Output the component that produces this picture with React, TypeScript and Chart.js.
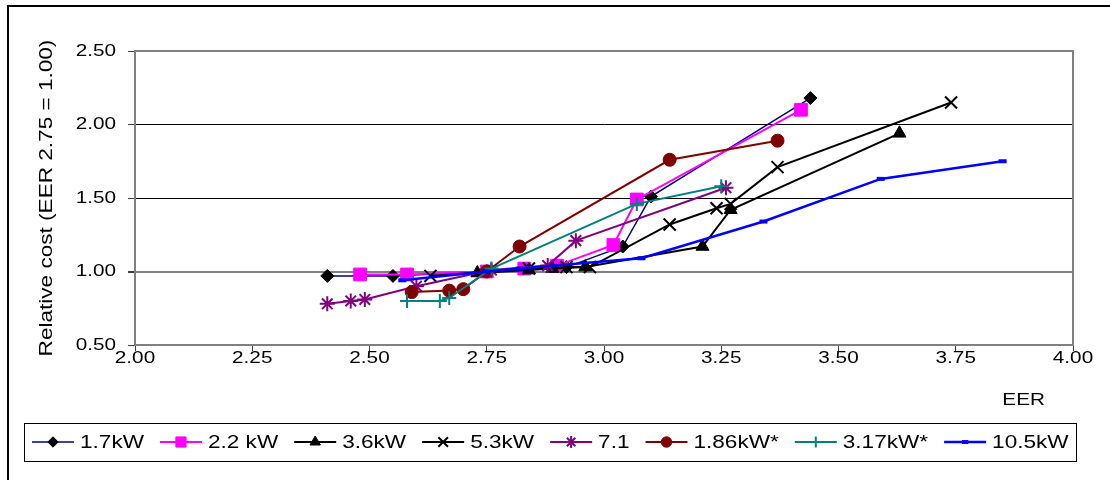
import React, { useEffect, useRef } from 'react';
import { Chart, registerables } from 'chart.js';
import { drawPoint } from 'chart.js/helpers';

Chart.register(...registerables);

// ---- data ----
const seriesNames = ['1.7kW', '2.2 kW', '3.6kW', '5.3kW', '7.1', '1.86kW*', '3.17kW*', '10.5kW'];

const eer17 = [2.41, 2.55, 2.75, 2.92, 3.04, 3.10, 3.44];
const cost17 = [0.97, 0.97, 1.00, 1.03, 1.17, 1.51, 2.18];

const eer22 = [2.48, 2.58, 2.75, 2.83, 2.90, 3.02, 3.07, 3.42];
const cost22 = [0.98, 0.98, 1.00, 1.02, 1.04, 1.18, 1.49, 2.10];

const eer36 = [2.73, 2.84, 2.89, 2.96, 3.21, 3.27, 3.63];
const cost36 = [0.99, 1.01, 1.02, 1.03, 1.17, 1.42, 1.94];

const eer53 = [2.63, 2.84, 2.92, 2.97, 3.14, 3.24, 3.27, 3.37, 3.74];
const cost53 = [0.97, 1.02, 1.03, 1.03, 1.32, 1.43, 1.46, 1.71, 2.15];

const eer71 = [2.41, 2.46, 2.49, 2.60, 2.76, 2.88, 2.94, 3.26];
const cost71 = [0.78, 0.80, 0.81, 0.90, 1.01, 1.04, 1.21, 1.57];

const eer186 = [2.59, 2.67, 2.70, 2.75, 2.82, 3.14, 3.37];
const cost186 = [0.86, 0.87, 0.88, 1.00, 1.17, 1.76, 1.89];

const eer317 = [2.58, 2.65, 2.67, 2.76, 3.07, 3.25];
const cost317 = [0.80, 0.80, 0.82, 1.02, 1.46, 1.58];

const eer105 = [2.57, 2.75, 2.82, 3.08, 3.34, 3.59, 3.85];
const cost105 = [0.94, 1.00, 1.02, 1.09, 1.34, 1.63, 1.75];

const xTickValues = [2.0, 2.25, 2.5, 2.75, 3.0, 3.25, 3.5, 3.75, 4.0];
const yTickValues = [0.5, 1.0, 1.5, 2.0, 2.5];

const xTitle = 'EER';
const yTitle = 'Relative cost (EER 2.75 = 1.00)';

// ---- styles ----
const lineColors = ['#000080', '#FF00FF', '#000000', '#000000', '#800080', '#800000', '#008080', '#0000FF'];
const markerColors = ['#000000', '#FF00FF', '#000000', '#000000', '#800080', '#800000', '#008080', '#0000FF'];
const markerStyles = ['rectRot', 'rect', 'triangle', 'crossRot', 'star', 'circle', 'cross', 'line'];
const markerRadii = [6.5, 9, 7.5, 8.5, 7.5, 6.5, 7, 4];
const markerBorderWidths = [1, 1, 1, 2, 2, 1, 2, 4];
const lineWidths = [1.5, 2, 2, 2, 2, 2, 2, 2.5];

const FONT = '"Liberation Sans", Arial, Helvetica, sans-serif';
const SX = 1.22; // horizontal text stretch to mimic the original rendering

function patchCtx(ctx: CanvasRenderingContext2D) {
  const orig = ctx.fillText.bind(ctx);
  (ctx as any).fillText = (text: string, x: number, y: number, maxWidth?: number) => {
    ctx.save();
    ctx.translate(x, y);
    ctx.scale(SX, 1);
    if (maxWidth !== undefined && maxWidth !== null) orig(text, 0, 0, maxWidth / SX);
    else orig(text, 0, 0);
    ctx.restore();
  };
}

const plotBorderPlugin = {
  id: 'plotBorder',
  beforeDatasetsDraw(chart: any) {
    const { ctx, chartArea } = chart;
    ctx.save();
    ctx.strokeStyle = '#808080';
    ctx.lineWidth = 2;
    ctx.strokeRect(chartArea.left, chartArea.top, chartArea.right - chartArea.left, chartArea.bottom - chartArea.top);
    ctx.restore();
  },
};

const extraTextPlugin = {
  id: 'extraText',
  afterDraw(chart: any) {
    const ctx = chart.ctx;
    ctx.save();
    ctx.fillStyle = '#000';
    ctx.font = `17px ${FONT}`;
    ctx.textAlign = 'right';
    ctx.textBaseline = 'middle';
    ctx.fillText(xTitle, 1045, 400);
    ctx.restore();
  },
};

const legendPlugin = {
  id: 'boxLegend',
  afterDraw(chart: any) {
    const ctx = chart.ctx;
    ctx.save();
    ctx.strokeStyle = '#000';
    ctx.lineWidth = 1;
    ctx.strokeRect(24.5, 423.5, 1052, 38);
    const y = 442;
    let x = 32;
    ctx.font = `18.5px ${FONT}`;
    ctx.textBaseline = 'middle';
    ctx.textAlign = 'left';
    chart.data.datasets.forEach((ds: any) => {
      const x1 = x;
      const x2 = x + 42;
      ctx.strokeStyle = ds.borderColor;
      ctx.lineWidth = ds.borderWidth;
      ctx.beginPath();
      ctx.moveTo(x1, y);
      ctx.lineTo(x2, y);
      ctx.stroke();
      ctx.fillStyle = ds.pointBackgroundColor;
      ctx.strokeStyle = ds.pointBorderColor;
      ctx.lineWidth = ds.pointBorderWidth;
      drawPoint(ctx, { pointStyle: ds.pointStyle, radius: ds.pointRadius * 0.8, borderWidth: ds.pointBorderWidth, rotation: 0 } as any, (x1 + x2) / 2, y);
      ctx.fillStyle = '#000';
      const tx = x2 + 6;
      ctx.fillText(ds.label, tx, y + 1);
      const w = ctx.measureText(ds.label).width * SX;
      x = tx + w + 16;
    });
    ctx.restore();
  },
};

const allX = [eer17, eer22, eer36, eer53, eer71, eer186, eer317, eer105];
const allY = [cost17, cost22, cost36, cost53, cost71, cost186, cost317, cost105];

export default function App() {
  const canvasRef = useRef<HTMLCanvasElement>(null);

  useEffect(() => {
    const canvas = canvasRef.current;
    if (!canvas) return;
    const ctx = canvas.getContext('2d')!;
    patchCtx(ctx);

    const datasets = seriesNames.map((name, i) => ({
      label: name,
      data: allX[i].map((xv, j) => ({ x: xv, y: allY[i][j] })),
      showLine: true,
      borderColor: lineColors[i],
      borderWidth: lineWidths[i],
      backgroundColor: markerColors[i],
      pointStyle: markerStyles[i],
      pointRadius: markerRadii[i],
      pointHoverRadius: markerRadii[i],
      pointBackgroundColor: markerColors[i],
      pointBorderColor: markerColors[i],
      pointBorderWidth: markerBorderWidths[i],
      tension: 0,
      order: seriesNames.length - i,
      clip: false as any,
    }));

    const chart = new Chart(ctx, {
      type: 'scatter',
      data: { datasets },
      plugins: [plotBorderPlugin, extraTextPlugin, legendPlugin],
      options: {
        responsive: false,
        animation: false,
        events: [],
        layout: { padding: { top: 51, right: 37, bottom: 0, left: 0 } },
        plugins: {
          legend: { display: false },
          tooltip: { enabled: false },
          title: { display: false },
        },
        scales: {
          x: {
            type: 'linear',
            min: 2,
            max: 4,
            afterBuildTicks: (s: any) => { s.ticks = xTickValues.map((v) => ({ value: v })); },
            afterFit: (s: any) => { s.height = 135; },
            ticks: {
              color: '#000',
              font: { size: 17, family: FONT },
              padding: -3,
              maxRotation: 0,
              autoSkip: false,
              callback: (v: any) => Number(v).toFixed(2),
            },
            grid: { drawOnChartArea: false, drawTicks: true, tickLength: 6, tickColor: '#404040', tickWidth: 1 },
            border: { display: true, color: '#808080', width: 2 },
          },
          y: {
            type: 'linear',
            min: 0.5,
            max: 2.5,
            afterBuildTicks: (s: any) => { s.ticks = yTickValues.map((v) => ({ value: v })); },
            afterFit: (s: any) => { s.width = 135; },
            ticks: {
              color: '#000',
              font: { size: 17, family: FONT },
              padding: 12,
              autoSkip: false,
              callback: (v: any) => Number(v).toFixed(2),
            },
            grid: {
              drawTicks: true,
              tickLength: 7,
              tickColor: '#404040',
              color: (c: any) => {
                const v = c.tick ? c.tick.value : null;
                if (v === 0.5 || v === 2.5) return 'rgba(0,0,0,0)';
                if (v === 1) return '#808080';
                return '#000000';
              },
              lineWidth: (c: any) => (c.tick && c.tick.value === 1 ? 2 : 1),
            },
            border: { display: true, color: '#808080', width: 2 },
            title: {
              display: true,
              text: yTitle,
              color: '#000',
              font: { size: 18.5, family: FONT },
              padding: { top: 36, bottom: 0 },
            },
          },
        },
      },
    });

    return () => chart.destroy();
  }, []);

  return (
    <div style={{ position: 'fixed', left: 0, top: 0, width: 1110, height: 480, background: '#fff', overflow: 'hidden' }}>
      <div style={{ position: 'absolute', left: 7, top: 5, width: 1110, height: 480, borderLeft: '2px solid #000', borderTop: '2px solid #000', boxSizing: 'border-box' }} />
      <canvas ref={canvasRef} width={1110} height={480} style={{ position: 'absolute', left: 0, top: 0, width: 1110, height: 480 }} />
    </div>
  );
}
